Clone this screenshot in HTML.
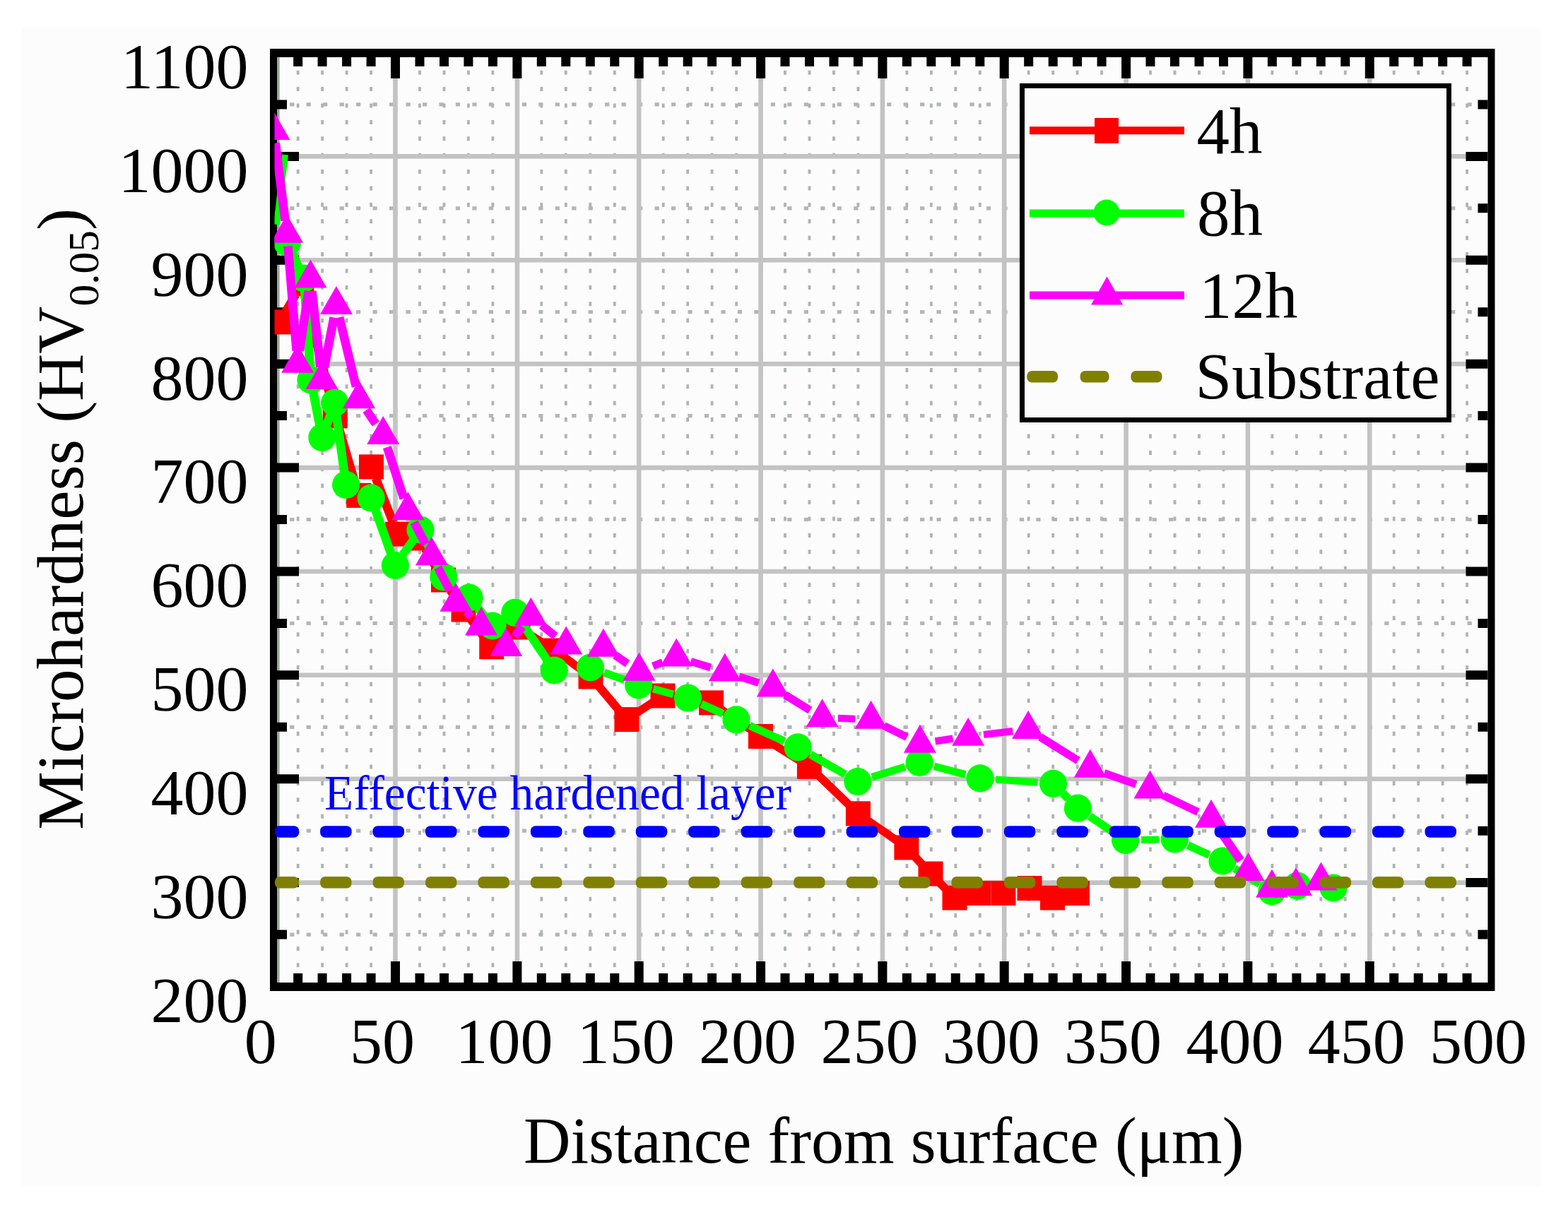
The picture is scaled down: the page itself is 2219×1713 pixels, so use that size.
<!DOCTYPE html>
<html><head><meta charset="utf-8"><title>Microhardness profile</title>
<style>html,body{margin:0;padding:0;background:#fff;} svg{display:block;}</style>
</head><body>
<svg width="2219" height="1713" viewBox="0 0 2219 1713">
<defs><clipPath id="pc"><rect x="388.5" y="70" width="1722" height="1330"/></clipPath></defs>
<rect x="0" y="0" width="2219" height="1713" fill="#ffffff"/>
<rect x="30" y="39" width="2151" height="1641" fill="#fcfcfc"/>
<path d="M421.7 81.0V1391.0M456.1 81.0V1391.0M490.6 81.0V1391.0M525.1 81.0V1391.0M594.0 81.0V1391.0M628.5 81.0V1391.0M662.9 81.0V1391.0M697.4 81.0V1391.0M766.3 81.0V1391.0M800.8 81.0V1391.0M835.3 81.0V1391.0M869.8 81.0V1391.0M938.7 81.0V1391.0M973.2 81.0V1391.0M1007.6 81.0V1391.0M1042.1 81.0V1391.0M1111.0 81.0V1391.0M1145.5 81.0V1391.0M1180.0 81.0V1391.0M1214.4 81.0V1391.0M1283.4 81.0V1391.0M1317.8 81.0V1391.0M1352.3 81.0V1391.0M1386.8 81.0V1391.0M1455.7 81.0V1391.0M1490.2 81.0V1391.0M1524.6 81.0V1391.0M1559.1 81.0V1391.0M1628.0 81.0V1391.0M1662.5 81.0V1391.0M1697.0 81.0V1391.0M1731.5 81.0V1391.0M1800.4 81.0V1391.0M1834.9 81.0V1391.0M1869.3 81.0V1391.0M1903.8 81.0V1391.0M1972.7 81.0V1391.0M2007.2 81.0V1391.0M2041.7 81.0V1391.0M2076.1 81.0V1391.0" stroke="#adb3b3" stroke-width="3.8" stroke-dasharray="6 17.4" stroke-dashoffset="4.7" fill="none"/>
<path d="M392.0 1323.1H2105.5M392.0 1176.2H2105.5M392.0 1029.3H2105.5M392.0 882.4H2105.5M392.0 735.5H2105.5M392.0 588.6H2105.5M392.0 441.7H2105.5M392.0 294.8H2105.5M392.0 147.9H2105.5" stroke="#b3b5b5" stroke-width="5.2" stroke-dasharray="6.2 17.27" stroke-dashoffset="-18.2" fill="none"/>
<path d="M559.5 81.0V1391.0M731.9 81.0V1391.0M904.2 81.0V1391.0M1076.6 81.0V1391.0M1248.9 81.0V1391.0M1421.2 81.0V1391.0M1593.6 81.0V1391.0M1765.9 81.0V1391.0M1938.3 81.0V1391.0M392.0 1249.6H2105.5M392.0 1102.7H2105.5M392.0 955.8H2105.5M392.0 809.0H2105.5M392.0 662.1H2105.5M392.0 515.2H2105.5M392.0 368.3H2105.5M392.0 221.4H2105.5" stroke="#c3c3c3" stroke-width="6.6" fill="none"/>
<rect x="392" y="81.0" width="3.6" height="1310.0" fill="#9ca39c"/>
<path d="M382 69H2115.5V1403H382Z M392 81V1391H2105.5V81Z" fill="#000" fill-rule="evenodd"/>
<path d="M421.7 81.0v13M421.7 1391.0v-13M456.1 81.0v13M456.1 1391.0v-13M490.6 81.0v13M490.6 1391.0v-13M525.1 81.0v13M525.1 1391.0v-13M559.5 81.0v30M559.5 1391.0v-30M594.0 81.0v13M594.0 1391.0v-13M628.5 81.0v13M628.5 1391.0v-13M662.9 81.0v13M662.9 1391.0v-13M697.4 81.0v13M697.4 1391.0v-13M731.9 81.0v30M731.9 1391.0v-30M766.3 81.0v13M766.3 1391.0v-13M800.8 81.0v13M800.8 1391.0v-13M835.3 81.0v13M835.3 1391.0v-13M869.8 81.0v13M869.8 1391.0v-13M904.2 81.0v30M904.2 1391.0v-30M938.7 81.0v13M938.7 1391.0v-13M973.2 81.0v13M973.2 1391.0v-13M1007.6 81.0v13M1007.6 1391.0v-13M1042.1 81.0v13M1042.1 1391.0v-13M1076.6 81.0v30M1076.6 1391.0v-30M1111.0 81.0v13M1111.0 1391.0v-13M1145.5 81.0v13M1145.5 1391.0v-13M1180.0 81.0v13M1180.0 1391.0v-13M1214.4 81.0v13M1214.4 1391.0v-13M1248.9 81.0v30M1248.9 1391.0v-30M1283.4 81.0v13M1283.4 1391.0v-13M1317.8 81.0v13M1317.8 1391.0v-13M1352.3 81.0v13M1352.3 1391.0v-13M1386.8 81.0v13M1386.8 1391.0v-13M1421.2 81.0v30M1421.2 1391.0v-30M1455.7 81.0v13M1455.7 1391.0v-13M1490.2 81.0v13M1490.2 1391.0v-13M1524.6 81.0v13M1524.6 1391.0v-13M1559.1 81.0v13M1559.1 1391.0v-13M1593.6 81.0v30M1593.6 1391.0v-30M1628.0 81.0v13M1628.0 1391.0v-13M1662.5 81.0v13M1662.5 1391.0v-13M1697.0 81.0v13M1697.0 1391.0v-13M1731.5 81.0v13M1731.5 1391.0v-13M1765.9 81.0v30M1765.9 1391.0v-30M1800.4 81.0v13M1800.4 1391.0v-13M1834.9 81.0v13M1834.9 1391.0v-13M1869.3 81.0v13M1869.3 1391.0v-13M1903.8 81.0v13M1903.8 1391.0v-13M1938.3 81.0v30M1938.3 1391.0v-30M1972.7 81.0v13M1972.7 1391.0v-13M2007.2 81.0v13M2007.2 1391.0v-13M2041.7 81.0v13M2041.7 1391.0v-13M2076.1 81.0v13M2076.1 1391.0v-13" stroke="#000" stroke-width="13" fill="none"/>
<path d="M392.0 1323.1h14M2105.5 1323.1h-14M392.0 1249.6h31M2105.5 1249.6h-31M392.0 1176.2h14M2105.5 1176.2h-14M392.0 1102.7h31M2105.5 1102.7h-31M392.0 1029.3h14M2105.5 1029.3h-14M392.0 955.8h31M2105.5 955.8h-31M392.0 882.4h14M2105.5 882.4h-14M392.0 809.0h31M2105.5 809.0h-31M392.0 735.5h14M2105.5 735.5h-14M392.0 662.1h31M2105.5 662.1h-31M392.0 588.6h14M2105.5 588.6h-14M392.0 515.2h31M2105.5 515.2h-31M392.0 441.7h14M2105.5 441.7h-14M392.0 368.3h31M2105.5 368.3h-31M392.0 294.8h14M2105.5 294.8h-14M392.0 221.4h31M2105.5 221.4h-31M392.0 147.9h14M2105.5 147.9h-14" stroke="#000" stroke-width="13" fill="none"/>
<g clip-path="url(#pc)">
<g stroke="#ff0000" fill="none" stroke-linecap="butt"><path d="M404.5 440.8L418.2 417.1" stroke-width="12.2"/><path d="M431.3 419.0L470.0 571.9" stroke-width="12.5"/><path d="M479.3 605.7L502.7 684.6" stroke-width="12.5"/><path d="M531.9 677.2L556.2 739.8" stroke-width="12.4"/><path d="M601.8 777.1L618.7 805.9" stroke-width="12.2"/><path d="M637.3 835.5L646.2 848.5" stroke-width="12.2"/><path d="M666.5 877.0L685.2 901.8" stroke-width="12.1"/><path d="M709.7 905.3L719.0 898.5" stroke-width="11.6"/><path d="M747.9 897.2L771.1 911.8" stroke-width="11.4"/><path d="M800.1 931.4L821.9 947.6" stroke-width="11.5"/><path d="M847.3 971.4L875.6 1005.2" stroke-width="12.0"/><path d="M901.5 1009.0L923.4 994.6" stroke-width="11.4"/><path d="M955.3 987.5L989.3 992.4" stroke-width="10.4"/><path d="M1021.1 1004.8L1061.9 1032.6" stroke-width="11.5"/><path d="M1091.3 1051.7L1130.5 1076.1" stroke-width="11.4"/><path d="M1158.0 1097.4L1201.8 1139.7" stroke-width="11.8"/><path d="M1228.7 1161.9L1268.6 1189.8" stroke-width="11.5"/><path d="M1294.7 1212.8L1305.2 1224.1" stroke-width="11.9"/><path d="M1329.4 1249.4L1338.6 1258.6" stroke-width="11.8"/></g>
<g fill="#ff0000"><rect x="378.2" y="438.4" width="35" height="35"/><rect x="409.5" y="384.5" width="35" height="35"/><rect x="456.8" y="571.4" width="35" height="35"/><rect x="490.2" y="683.9" width="35" height="35"/><rect x="508.0" y="643.4" width="35" height="35"/><rect x="545.1" y="738.6" width="35" height="35"/><rect x="575.5" y="744.5" width="35" height="35"/><rect x="610.0" y="803.5" width="35" height="35"/><rect x="638.5" y="845.5" width="35" height="35"/><rect x="678.2" y="898.3" width="35" height="35"/><rect x="715.5" y="870.5" width="35" height="35"/><rect x="768.5" y="903.5" width="35" height="35"/><rect x="818.5" y="940.5" width="35" height="35"/><rect x="869.4" y="1001.1" width="35" height="35"/><rect x="920.5" y="967.5" width="35" height="35"/><rect x="989.1" y="977.4" width="35" height="35"/><rect x="1058.9" y="1025.0" width="35" height="35"/><rect x="1127.9" y="1067.8" width="35" height="35"/><rect x="1196.9" y="1134.3" width="35" height="35"/><rect x="1265.4" y="1182.4" width="35" height="35"/><rect x="1299.5" y="1219.5" width="35" height="35"/><rect x="1333.5" y="1253.5" width="35" height="35"/><rect x="1367.5" y="1246.9" width="35" height="35"/><rect x="1402.5" y="1246.9" width="35" height="35"/><rect x="1439.5" y="1240.0" width="35" height="35"/><rect x="1472.0" y="1253.5" width="35" height="35"/><rect x="1507.0" y="1247.0" width="35" height="35"/></g>
<g stroke="#00ff00" fill="none" stroke-linecap="butt"><path d="M414.3 360.2L422.2 377.3" stroke-width="12.4"/><path d="M431.2 412.0L438.8 520.0" stroke-width="12.6"/><path d="M443.5 555.7L452.4 601.7" stroke-width="12.6"/><path d="M462.1 602.2L467.6 587.3" stroke-width="12.4"/><path d="M476.2 588.0L487.2 668.4" stroke-width="12.6"/><path d="M531.4 722.2L553.2 783.3" stroke-width="12.4"/><path d="M570.2 785.1L584.2 765.4" stroke-width="12.1"/><path d="M603.2 766.6L619.7 800.2" stroke-width="12.3"/><path d="M676.1 860.7L684.9 871.3" stroke-width="12.0"/><path d="M739.4 882.9L773.7 933.5" stroke-width="12.1"/><path d="M855.2 952.2L884.0 962.6" stroke-width="10.9"/><path d="M924.3 975.2L952.9 982.8" stroke-width="10.7"/><path d="M992.4 996.6L1023.1 1010.4" stroke-width="11.1"/><path d="M1060.9 1027.3L1110.3 1049.4" stroke-width="11.1"/><path d="M1146.8 1068.0L1196.3 1096.4" stroke-width="11.3"/><path d="M1234.1 1100.2L1281.0 1085.7" stroke-width="10.8"/><path d="M1321.9 1084.8L1366.4 1096.5" stroke-width="10.7"/><path d="M1409.2 1103.5L1468.4 1107.7" stroke-width="10.2"/><path d="M1504.2 1123.0L1511.7 1130.5" stroke-width="11.8"/><path d="M1542.0 1155.4L1576.1 1178.3" stroke-width="11.5"/><path d="M1615.1 1189.0L1640.0 1188.5" stroke-width="10.1"/><path d="M1681.1 1196.6L1711.3 1210.4" stroke-width="11.1"/><path d="M1747.2 1229.5L1782.8 1251.5" stroke-width="11.4"/></g>
<path d="M403.5 219L391.5 318" stroke="#00ff00" stroke-width="9"/>
<g fill="#00ff00"><circle cx="406.5" cy="343.5" r="19.6"/><circle cx="430.0" cy="394.0" r="19.6"/><circle cx="440.0" cy="538.0" r="19.6"/><circle cx="455.9" cy="619.4" r="19.6"/><circle cx="473.8" cy="570.1" r="19.6"/><circle cx="489.6" cy="686.3" r="19.6"/><circle cx="525.2" cy="705.0" r="19.6"/><circle cx="559.4" cy="800.5" r="19.6"/><circle cx="595.0" cy="750.0" r="19.6"/><circle cx="627.9" cy="816.8" r="19.6"/><circle cx="664.0" cy="846.0" r="19.6"/><circle cx="697.0" cy="886.0" r="19.6"/><circle cx="728.8" cy="867.4" r="19.6"/><circle cx="784.3" cy="949.0" r="19.6"/><circle cx="835.5" cy="945.0" r="19.6"/><circle cx="903.7" cy="969.8" r="19.6"/><circle cx="973.5" cy="988.2" r="19.6"/><circle cx="1042.0" cy="1018.8" r="19.6"/><circle cx="1129.2" cy="1057.9" r="19.6"/><circle cx="1213.9" cy="1106.5" r="19.6"/><circle cx="1301.2" cy="1079.4" r="19.6"/><circle cx="1387.1" cy="1101.9" r="19.6"/><circle cx="1490.5" cy="1109.3" r="19.6"/><circle cx="1525.4" cy="1144.2" r="19.6"/><circle cx="1592.7" cy="1189.5" r="19.6"/><circle cx="1662.4" cy="1188.0" r="19.6"/><circle cx="1730.0" cy="1219.0" r="19.6"/><circle cx="1800.0" cy="1262.0" r="19.6"/><circle cx="1836.0" cy="1254.0" r="19.6"/><circle cx="1887.0" cy="1257.0" r="19.6"/></g>
<g stroke="#ff00ff" fill="none" stroke-linecap="butt"><path d="M389.8 202.6L403.7 312.5" stroke-width="12.6"/><path d="M407.5 348.4L419.7 496.4" stroke-width="12.6"/><path d="M423.9 496.6L436.8 412.0" stroke-width="12.6"/><path d="M441.5 412.1L453.5 519.8" stroke-width="12.6"/><path d="M458.9 519.9L472.6 449.5" stroke-width="12.6"/><path d="M480.2 449.3L503.9 547.3" stroke-width="12.5"/><path d="M518.5 580.5L531.8 600.2" stroke-width="12.2"/><path d="M547.9 633.1L571.6 705.6" stroke-width="12.5"/><path d="M585.9 739.3L602.4 770.6" stroke-width="12.3"/><path d="M619.6 803.4L636.8 836.0" stroke-width="12.3"/><path d="M659.5 865.7L666.9 872.8" stroke-width="11.8"/><path d="M728.1 901.0L739.4 887.2" stroke-width="12.0"/><path d="M766.6 884.9L786.0 900.8" stroke-width="11.6"/><path d="M870.5 927.6L887.9 939.4" stroke-width="11.5"/><path d="M924.0 943.0L937.8 937.6" stroke-width="10.9"/><path d="M977.5 936.4L1005.6 945.0" stroke-width="10.8"/><path d="M1045.9 957.8L1073.7 966.7" stroke-width="10.8"/><path d="M1111.0 983.7L1146.4 1005.5" stroke-width="11.4"/><path d="M1185.9 1016.8L1210.3 1017.7" stroke-width="10.1"/><path d="M1251.0 1027.5L1283.5 1043.5" stroke-width="11.1"/><path d="M1323.5 1049.3L1348.6 1045.7" stroke-width="10.4"/><path d="M1392.0 1040.0L1433.3 1035.1" stroke-width="10.3"/><path d="M1472.2 1043.3L1525.7 1076.7" stroke-width="11.4"/><path d="M1562.6 1094.4L1607.7 1110.3" stroke-width="10.9"/><path d="M1646.1 1126.1L1695.4 1149.6" stroke-width="11.1"/><path d="M1724.8 1173.8L1755.7 1218.3" stroke-width="12.1"/></g>
<g fill="#ff00ff"><path d="M387.5 158.0L410.5 198.0H364.5Z"/><path d="M406.0 303.7L429.0 343.7H383.0Z"/><path d="M421.2 487.7L444.2 527.7H398.2Z"/><path d="M439.5 367.5L462.5 407.5H416.5Z"/><path d="M455.5 511.0L478.5 551.0H432.5Z"/><path d="M476.0 405.0L499.0 445.0H453.0Z"/><path d="M508.1 538.2L531.1 578.2H485.1Z"/><path d="M542.2 589.1L565.2 629.1H519.2Z"/><path d="M577.3 696.2L600.3 736.2H554.3Z"/><path d="M611.0 760.3L634.0 800.3H588.0Z"/><path d="M645.4 825.7L668.4 865.7H622.4Z"/><path d="M681.0 859.4L704.0 899.4H658.0Z"/><path d="M716.1 889.0L739.1 929.0H693.1Z"/><path d="M751.4 845.8L774.4 885.8H728.4Z"/><path d="M801.2 886.5L824.2 926.5H778.2Z"/><path d="M853.9 889.8L876.9 929.8H830.9Z"/><path d="M904.5 923.8L927.5 963.8H881.5Z"/><path d="M957.3 903.4L980.3 943.4H934.3Z"/><path d="M1025.8 924.6L1048.8 964.6H1002.8Z"/><path d="M1093.8 946.5L1116.8 986.5H1070.8Z"/><path d="M1163.6 989.3L1186.6 1029.3H1140.6Z"/><path d="M1232.6 991.8L1255.6 1031.8H1209.6Z"/><path d="M1301.9 1025.8L1324.9 1065.8H1278.9Z"/><path d="M1370.2 1015.8L1393.2 1055.8H1347.2Z"/><path d="M1455.1 1005.9L1478.1 1045.9H1432.1Z"/><path d="M1542.8 1060.7L1565.8 1100.7H1519.8Z"/><path d="M1627.5 1090.6L1650.5 1130.6H1604.5Z"/><path d="M1714.0 1131.7L1737.0 1171.7H1691.0Z"/><path d="M1766.5 1207.0L1789.5 1247.0H1743.5Z"/><path d="M1800.0 1230.6L1823.0 1270.6H1777.0Z"/><path d="M1834.0 1228.0L1857.0 1268.0H1811.0Z"/><path d="M1869.5 1220.5L1892.5 1260.5H1846.5Z"/></g>
</g>
<rect x="389.0" y="1169.2" width="34.1" height="16.6" rx="7" fill="#0000ff"/><rect x="453.1" y="1169.2" width="44.5" height="16.6" rx="7" fill="#0000ff"/><rect x="527.5" y="1169.2" width="44.5" height="16.6" rx="7" fill="#0000ff"/><rect x="602.0" y="1169.2" width="44.5" height="16.6" rx="7" fill="#0000ff"/><rect x="676.4" y="1169.2" width="44.5" height="16.6" rx="7" fill="#0000ff"/><rect x="750.9" y="1169.2" width="44.5" height="16.6" rx="7" fill="#0000ff"/><rect x="825.3" y="1169.2" width="44.5" height="16.6" rx="7" fill="#0000ff"/><rect x="899.8" y="1169.2" width="44.5" height="16.6" rx="7" fill="#0000ff"/><rect x="974.2" y="1169.2" width="44.5" height="16.6" rx="7" fill="#0000ff"/><rect x="1048.7" y="1169.2" width="44.5" height="16.6" rx="7" fill="#0000ff"/><rect x="1123.1" y="1169.2" width="44.5" height="16.6" rx="7" fill="#0000ff"/><rect x="1197.6" y="1169.2" width="44.5" height="16.6" rx="7" fill="#0000ff"/><rect x="1272.0" y="1169.2" width="44.5" height="16.6" rx="7" fill="#0000ff"/><rect x="1346.5" y="1169.2" width="44.5" height="16.6" rx="7" fill="#0000ff"/><rect x="1420.9" y="1169.2" width="44.5" height="16.6" rx="7" fill="#0000ff"/><rect x="1495.4" y="1169.2" width="44.5" height="16.6" rx="7" fill="#0000ff"/><rect x="1569.8" y="1169.2" width="44.5" height="16.6" rx="7" fill="#0000ff"/><rect x="1644.3" y="1169.2" width="44.5" height="16.6" rx="7" fill="#0000ff"/><rect x="1718.7" y="1169.2" width="44.5" height="16.6" rx="7" fill="#0000ff"/><rect x="1793.2" y="1169.2" width="44.5" height="16.6" rx="7" fill="#0000ff"/><rect x="1867.6" y="1169.2" width="44.5" height="16.6" rx="7" fill="#0000ff"/><rect x="1942.1" y="1169.2" width="44.5" height="16.6" rx="7" fill="#0000ff"/><rect x="2016.5" y="1169.2" width="44.5" height="16.6" rx="7" fill="#0000ff"/>
<rect x="389.0" y="1240.9" width="34.1" height="16.6" rx="7" fill="#808000"/><rect x="453.1" y="1240.9" width="44.5" height="16.6" rx="7" fill="#808000"/><rect x="527.5" y="1240.9" width="44.5" height="16.6" rx="7" fill="#808000"/><rect x="602.0" y="1240.9" width="44.5" height="16.6" rx="7" fill="#808000"/><rect x="676.4" y="1240.9" width="44.5" height="16.6" rx="7" fill="#808000"/><rect x="750.9" y="1240.9" width="44.5" height="16.6" rx="7" fill="#808000"/><rect x="825.3" y="1240.9" width="44.5" height="16.6" rx="7" fill="#808000"/><rect x="899.8" y="1240.9" width="44.5" height="16.6" rx="7" fill="#808000"/><rect x="974.2" y="1240.9" width="44.5" height="16.6" rx="7" fill="#808000"/><rect x="1048.7" y="1240.9" width="44.5" height="16.6" rx="7" fill="#808000"/><rect x="1123.1" y="1240.9" width="44.5" height="16.6" rx="7" fill="#808000"/><rect x="1197.6" y="1240.9" width="44.5" height="16.6" rx="7" fill="#808000"/><rect x="1272.0" y="1240.9" width="44.5" height="16.6" rx="7" fill="#808000"/><rect x="1346.5" y="1240.9" width="44.5" height="16.6" rx="7" fill="#808000"/><rect x="1420.9" y="1240.9" width="44.5" height="16.6" rx="7" fill="#808000"/><rect x="1495.4" y="1240.9" width="44.5" height="16.6" rx="7" fill="#808000"/><rect x="1569.8" y="1240.9" width="44.5" height="16.6" rx="7" fill="#808000"/><rect x="1644.3" y="1240.9" width="44.5" height="16.6" rx="7" fill="#808000"/><rect x="1718.7" y="1240.9" width="44.5" height="16.6" rx="7" fill="#808000"/><rect x="1793.2" y="1240.9" width="44.5" height="16.6" rx="7" fill="#808000"/><rect x="1867.6" y="1240.9" width="44.5" height="16.6" rx="7" fill="#808000"/><rect x="1942.1" y="1240.9" width="44.5" height="16.6" rx="7" fill="#808000"/><rect x="2016.5" y="1240.9" width="44.5" height="16.6" rx="7" fill="#808000"/>
<rect x="1446.5" y="121.5" width="604" height="473" fill="#fcfcfc" stroke="#000" stroke-width="7"/>
<path d="M1457 184.8H1676" stroke="#ff0000" stroke-width="11"/>
<rect x="1549" y="167" width="34" height="36" fill="#ff0000"/>
<path d="M1457 302H1676" stroke="#00ff00" stroke-width="11"/>
<circle cx="1566" cy="301" r="18.5" fill="#00ff00"/>
<path d="M1457 418H1676" stroke="#ff00ff" stroke-width="11"/>
<path d="M1566.5 391.4L1589 431.5H1544Z" fill="#ff00ff"/>
<rect x="1453.3" y="525" width="43.8" height="16.5" rx="7" fill="#808000"/>
<rect x="1528.6" y="525" width="41.0" height="16.5" rx="7" fill="#808000"/>
<rect x="1600.4" y="525" width="44.1" height="16.5" rx="7" fill="#808000"/>
<text x="1693.5" y="217.2" font-size="93" font-family="Liberation Serif, Times New Roman, serif" >4h</text>
<text x="1694.0" y="332.8" font-size="93" font-family="Liberation Serif, Times New Roman, serif" >8h</text>
<text x="1697.0" y="450.0" font-size="93" font-family="Liberation Serif, Times New Roman, serif" >12h</text>
<text x="1691.5" y="564.2" font-size="93" font-family="Liberation Serif, Times New Roman, serif" >Substrate</text>
<text x="351.5" y="1446.8" font-size="92" font-family="Liberation Serif, Times New Roman, serif" text-anchor="end">200</text>
<text x="351.5" y="1299.9" font-size="92" font-family="Liberation Serif, Times New Roman, serif" text-anchor="end">300</text>
<text x="351.5" y="1153.0" font-size="92" font-family="Liberation Serif, Times New Roman, serif" text-anchor="end">400</text>
<text x="351.5" y="1006.1" font-size="92" font-family="Liberation Serif, Times New Roman, serif" text-anchor="end">500</text>
<text x="351.5" y="859.2" font-size="92" font-family="Liberation Serif, Times New Roman, serif" text-anchor="end">600</text>
<text x="351.5" y="712.4" font-size="92" font-family="Liberation Serif, Times New Roman, serif" text-anchor="end">700</text>
<text x="351.5" y="565.5" font-size="92" font-family="Liberation Serif, Times New Roman, serif" text-anchor="end">800</text>
<text x="351.5" y="418.6" font-size="92" font-family="Liberation Serif, Times New Roman, serif" text-anchor="end">900</text>
<text x="351.5" y="271.7" font-size="92" font-family="Liberation Serif, Times New Roman, serif" text-anchor="end">1000</text>
<text x="351.5" y="124.8" font-size="92" font-family="Liberation Serif, Times New Roman, serif" text-anchor="end">1100</text>
<text x="368.7" y="1505.0" font-size="92" font-family="Liberation Serif, Times New Roman, serif" text-anchor="middle">0</text>
<text x="541.0" y="1505.0" font-size="92" font-family="Liberation Serif, Times New Roman, serif" text-anchor="middle">50</text>
<text x="713.4" y="1505.0" font-size="92" font-family="Liberation Serif, Times New Roman, serif" text-anchor="middle">100</text>
<text x="885.7" y="1505.0" font-size="92" font-family="Liberation Serif, Times New Roman, serif" text-anchor="middle">150</text>
<text x="1058.1" y="1505.0" font-size="92" font-family="Liberation Serif, Times New Roman, serif" text-anchor="middle">200</text>
<text x="1230.4" y="1505.0" font-size="92" font-family="Liberation Serif, Times New Roman, serif" text-anchor="middle">250</text>
<text x="1402.7" y="1505.0" font-size="92" font-family="Liberation Serif, Times New Roman, serif" text-anchor="middle">300</text>
<text x="1575.1" y="1505.0" font-size="92" font-family="Liberation Serif, Times New Roman, serif" text-anchor="middle">350</text>
<text x="1747.4" y="1505.0" font-size="92" font-family="Liberation Serif, Times New Roman, serif" text-anchor="middle">400</text>
<text x="1919.8" y="1505.0" font-size="92" font-family="Liberation Serif, Times New Roman, serif" text-anchor="middle">450</text>
<text x="2092.1" y="1505.0" font-size="92" font-family="Liberation Serif, Times New Roman, serif" text-anchor="middle">500</text>
<text x="741.0" y="1646.3" font-size="93" font-family="Liberation Serif, Times New Roman, serif" textLength="1019.5" lengthAdjust="spacingAndGlyphs">Distance from surface (μm)</text>
<text transform="translate(116.5 1174.8) rotate(-90)" font-size="93" font-family="Liberation Serif, Times New Roman, serif">Microhardness (HV<tspan font-size="61.5" dy="22.7">0.05</tspan><tspan dy="-22.7">)</tspan></text>
<text x="459.0" y="1146.0" font-size="69" font-family="Liberation Serif, Times New Roman, serif" fill="#0000ff" textLength="661" lengthAdjust="spacingAndGlyphs">Effective hardened layer</text>
</svg>
</body></html>
